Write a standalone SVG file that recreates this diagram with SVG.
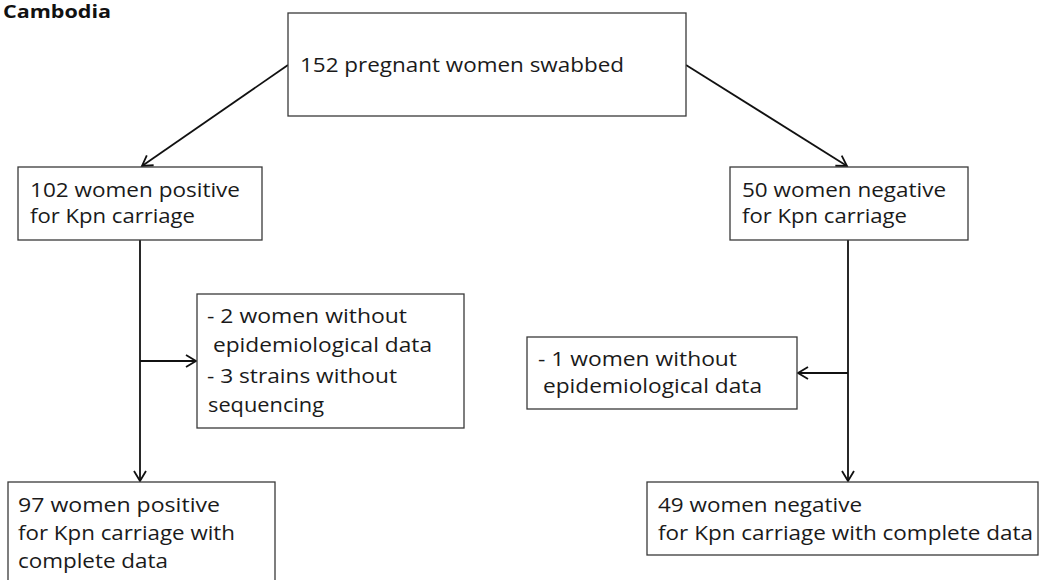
<svg xmlns="http://www.w3.org/2000/svg" width="1041" height="580" viewBox="0 0 1041 580">
<defs>
<style>
.box{fill:#fff;stroke:#3a3a3a;stroke-width:1.3}
.t{font-family:"Open Sans","Liberation Sans",sans-serif;font-size:20.5px;fill:#1a1a1a}
.c{fill:none;stroke:#111;stroke-width:1.8}
.title{font-family:"Open Sans","Liberation Sans",sans-serif;font-size:17px;font-weight:bold;fill:#111}
</style>
<marker id="arr" markerWidth="14" markerHeight="14" refX="11" refY="7" orient="auto" markerUnits="userSpaceOnUse">
<path d="M1,1 L11,7 L1,13" fill="none" stroke="#111" stroke-width="1.8"/>
</marker>
</defs>
<rect width="1041" height="580" fill="#fff"/>
<text class="title" x="3" y="18" textLength="108" lengthAdjust="spacingAndGlyphs">Cambodia</text>

<g id="connectors">
<line class="c" x1="288" y1="65" x2="142" y2="166" marker-end="url(#arr)"/>
<line class="c" x1="686" y1="65" x2="847" y2="166" marker-end="url(#arr)"/>
<line class="c" x1="140" y1="240" x2="140" y2="481" marker-end="url(#arr)"/>
<line class="c" x1="140" y1="361" x2="196" y2="361" marker-end="url(#arr)"/>
<line class="c" x1="848" y1="240" x2="848" y2="481" marker-end="url(#arr)"/>
<line class="c" x1="848" y1="373" x2="798" y2="373" marker-end="url(#arr)"/>
</g>

<g id="n-top">
<rect class="box" x="288" y="13" width="398" height="103"/>
<text class="t" x="300" y="72" textLength="324" lengthAdjust="spacingAndGlyphs">152 pregnant women swabbed</text>
</g>

<g id="n-positive">
<rect class="box" x="18" y="167" width="244" height="73"/>
<text class="t" x="30" y="197" textLength="210" lengthAdjust="spacingAndGlyphs">102 women positive</text>
<text class="t" x="30" y="223" textLength="165" lengthAdjust="spacingAndGlyphs">for Kpn carriage</text>
</g>

<g id="n-negative">
<rect class="box" x="730" y="167" width="238" height="73"/>
<text class="t" x="742" y="197" textLength="204" lengthAdjust="spacingAndGlyphs">50 women negative</text>
<text class="t" x="742" y="223" textLength="165" lengthAdjust="spacingAndGlyphs">for Kpn carriage</text>
</g>

<g id="n-excl-left">
<rect class="box" x="197" y="294" width="267" height="134"/>
<text class="t" x="207" y="323" textLength="200" lengthAdjust="spacingAndGlyphs">- 2 women without</text>
<text class="t" x="213" y="352" textLength="219" lengthAdjust="spacingAndGlyphs">epidemiological data</text>
<text class="t" x="207" y="383" textLength="190" lengthAdjust="spacingAndGlyphs">- 3 strains without</text>
<text class="t" x="208" y="412" textLength="116" lengthAdjust="spacingAndGlyphs">sequencing</text>
</g>

<g id="n-excl-right">
<rect class="box" x="527" y="337" width="270" height="72"/>
<text class="t" x="538" y="366" textLength="199" lengthAdjust="spacingAndGlyphs">- 1 women without</text>
<text class="t" x="543" y="393" textLength="219" lengthAdjust="spacingAndGlyphs">epidemiological data</text>
</g>

<g id="n-final-positive">
<rect class="box" x="8" y="482" width="267" height="110"/>
<text class="t" x="18" y="512" textLength="202" lengthAdjust="spacingAndGlyphs">97  women positive</text>
<text class="t" x="18" y="540" textLength="217" lengthAdjust="spacingAndGlyphs">for Kpn carriage with</text>
<text class="t" x="18" y="568" textLength="150" lengthAdjust="spacingAndGlyphs">complete data</text>
</g>

<g id="n-final-negative">
<rect class="box" x="647" y="482" width="391" height="73"/>
<text class="t" x="658" y="512" textLength="204" lengthAdjust="spacingAndGlyphs">49 women negative</text>
<text class="t" x="658" y="540" textLength="375" lengthAdjust="spacingAndGlyphs">for Kpn carriage with complete data</text>
</g>
</svg>
